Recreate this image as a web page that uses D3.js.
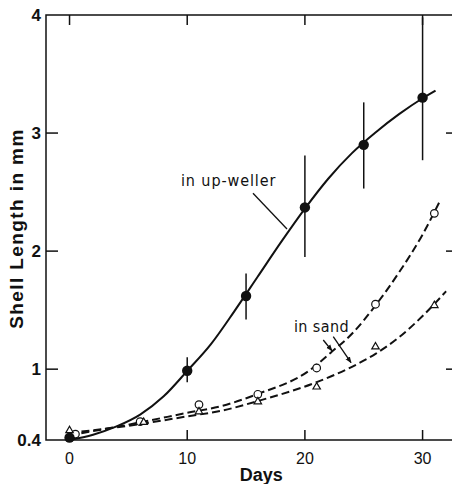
<!DOCTYPE html>
<html>
<head>
<meta charset="utf-8">
<script src="https://cdn.jsdelivr.net/npm/d3@7"></script>
<style>
  html, body { margin: 0; padding: 0; background: #fff; }
  svg { display: block; }
</style>
</head>
<body>
<svg id="chart"></svg>
<script>
// measured points, up-weller (filled dots with error bars)
const upDays = [0, 10, 15, 20, 25, 30];
const upMean = [0.42, 0.987, 1.62, 2.37, 2.90, 3.30];
const upLow  = [0.40, 0.89, 1.42, 1.95, 2.53, 2.77];
const upHigh = [0.45, 1.10, 1.81, 2.81, 3.26, 3.98];

// fitted curve, up-weller
const upFitDays = [0, 2, 4, 6, 8, 10, 12, 14, 16, 18, 20, 22, 24, 26, 28, 30, 31.1];
const upFitVals = [0.40, 0.445, 0.515, 0.615, 0.77, 0.985, 1.21, 1.49, 1.785, 2.08, 2.36, 2.615, 2.83, 3.005, 3.16, 3.295, 3.36];

// in sand, open circles
const sandCircleDays = [0.5, 6, 11, 16, 21, 26, 31];
const sandCircleVals = [0.45, 0.555, 0.70, 0.787, 1.01, 1.55, 2.32];
// in sand, triangles
const sandTriDays = [0, 6.3, 11, 16, 21, 26, 31];
const sandTriVals = [0.48, 0.55, 0.64, 0.725, 0.85, 1.19, 1.54];

// fitted dashed curves
const circleFitDays = [0, 5, 10, 13, 16, 20.4, 22.2, 24, 26, 28, 30, 31.5];
const circleFitVals = [0.44, 0.53, 0.63, 0.69, 0.79, 0.99, 1.14, 1.30, 1.54, 1.82, 2.14, 2.43];
const triFitDays = [0, 5, 10, 13, 16, 21, 24, 26, 28, 30, 32];
const triFitVals = [0.46, 0.52, 0.60, 0.65, 0.73, 0.89, 1.02, 1.13, 1.27, 1.45, 1.66];

const xTicks = [0, 10, 20, 30];
const yTicks = [0.4, 1, 2, 3, 4];

const W = 452, H = 484;
const margin = { top: 15, right: 0, bottom: 44, left: 46 };

const svg = d3.select("#chart").attr("width", W).attr("height", H);

const x = d3.scaleLinear().domain([-2, 32.5]).range([margin.left, W - margin.right]);
const y = d3.scaleLinear().domain([0.4, 4]).range([H - margin.bottom, margin.top]);

const ink = "#111";
const tickFont = "'Liberation Sans', Arial, sans-serif";
const noteFont = "'Liberation Sans Narrow', 'DejaVu Sans Condensed', sans-serif";

// frame: left, top, bottom
const x0 = x.range()[0], x1 = x.range()[1];
const yTop = y.range()[1], yBot = y.range()[0];
svg.append("path")
  .attr("d", `M${x1},${yTop}H${x0}V${yBot}H${x1}`)
  .attr("fill", "none")
  .attr("stroke", ink)
  .attr("stroke-width", 1.5);

// x ticks top and bottom, pointing in
xTicks.forEach(t => {
  svg.append("line").attr("x1", x(t)).attr("x2", x(t)).attr("y1", yTop).attr("y2", yTop + 10)
    .attr("stroke", ink).attr("stroke-width", 1.5);
  svg.append("line").attr("x1", x(t)).attr("x2", x(t)).attr("y1", yBot).attr("y2", yBot - 10)
    .attr("stroke", ink).attr("stroke-width", 1.5);
  svg.append("text")
    .attr("x", x(t)).attr("y", yBot + 24)
    .attr("text-anchor", "middle")
    .attr("font-family", tickFont).attr("font-size", 16)
    .attr("fill", ink)
    .text(t);
});

// y ticks left and right
yTicks.forEach(t => {
  if (t > 0.4 && t < 4) {
    svg.append("line").attr("x1", x0).attr("x2", x0 + 12).attr("y1", y(t)).attr("y2", y(t))
      .attr("stroke", ink).attr("stroke-width", 1.5);
    svg.append("line").attr("x1", x1 - 6).attr("x2", x1).attr("y1", y(t)).attr("y2", y(t))
      .attr("stroke", ink).attr("stroke-width", 1.5);
  }
  svg.append("text")
    .attr("x", x0 - 5).attr("y", y(t)).attr("dy", "0.36em")
    .attr("text-anchor", "end")
    .attr("font-family", tickFont).attr("font-size", 17).attr("font-weight", "bold")
    .attr("fill", ink)
    .text(t);
});

// axis titles
svg.append("text")
  .attr("transform", `translate(23, 228.5) rotate(-90)`)
  .attr("text-anchor", "middle")
  .attr("font-family", tickFont).attr("font-size", 19).attr("font-weight", "bold")
  .attr("letter-spacing", 1.4)
  .attr("fill", ink)
  .text("Shell Length in mm");

svg.append("text")
  .attr("x", x(16.3)).attr("y", H - 3)
  .attr("text-anchor", "middle")
  .attr("font-family", tickFont).attr("font-size", 18).attr("font-weight", "bold")
  .attr("fill", ink)
  .text("Days");

// curves
const line = d3.line().x(d => x(d[0])).y(d => y(d[1])).curve(d3.curveMonotoneX);

svg.append("path")
  .datum(d3.zip(upFitDays, upFitVals))
  .attr("d", line)
  .attr("fill", "none").attr("stroke", ink).attr("stroke-width", 2);

svg.append("path")
  .datum(d3.zip(circleFitDays, circleFitVals))
  .attr("d", line)
  .attr("fill", "none").attr("stroke", ink).attr("stroke-width", 2)
  .attr("stroke-dasharray", "8,4");

svg.append("path")
  .datum(d3.zip(triFitDays, triFitVals))
  .attr("d", line)
  .attr("fill", "none").attr("stroke", ink).attr("stroke-width", 2)
  .attr("stroke-dasharray", "8,4");

// error bars
svg.selectAll("line.err")
  .data(upDays.map((d, i) => ({ d, lo: upLow[i], hi: upHigh[i] })))
  .join("line")
  .attr("class", "err")
  .attr("x1", p => x(p.d)).attr("x2", p => x(p.d))
  .attr("y1", p => y(p.lo)).attr("y2", p => y(p.hi))
  .attr("stroke", ink).attr("stroke-width", 1.5);

// markers
svg.selectAll("circle.sandc")
  .data(d3.zip(sandCircleDays, sandCircleVals))
  .join("circle")
  .attr("class", "sandc")
  .attr("cx", d => x(d[0])).attr("cy", d => y(d[1]))
  .attr("r", 3.8)
  .attr("fill", "#fff").attr("stroke", ink).attr("stroke-width", 1.2);

const tri = d3.symbol().type(d3.symbolTriangle).size(24);
svg.selectAll("path.sandt")
  .data(d3.zip(sandTriDays, sandTriVals))
  .join("path")
  .attr("class", "sandt")
  .attr("transform", d => `translate(${x(d[0])},${y(d[1])})`)
  .attr("d", tri)
  .attr("fill", "#fff").attr("stroke", ink).attr("stroke-width", 1.2);

svg.selectAll("circle.up")
  .data(d3.zip(upDays, upMean))
  .join("circle")
  .attr("class", "up")
  .attr("cx", d => x(d[0])).attr("cy", d => y(d[1]))
  .attr("r", 5.2)
  .attr("fill", ink);

// annotations
svg.append("text")
  .attr("x", x(9.47)).attr("y", y(2.55))
  .attr("font-family", noteFont).attr("font-size", 16)
  .attr("letter-spacing", 0.9)
  .attr("fill", ink)
  .text("in up-weller");

svg.append("line")
  .attr("x1", x(15.59)).attr("y1", y(2.49))
  .attr("x2", x(18.48)).attr("y2", y(2.187))
  .attr("stroke", ink).attr("stroke-width", 1.3);

svg.append("text")
  .attr("x", x(19.07)).attr("y", y(1.315))
  .attr("font-family", noteFont).attr("font-size", 16)
  .attr("letter-spacing", 0.4)
  .attr("fill", ink)
  .text("in sand");

svg.append("defs").append("marker")
  .attr("id", "arrow")
  .attr("viewBox", "0 0 10 10")
  .attr("refX", 9).attr("refY", 5)
  .attr("markerWidth", 5).attr("markerHeight", 5)
  .attr("orient", "auto")
  .append("path")
  .attr("d", "M0,1L10,5L0,9Z")
  .attr("fill", ink);

const sandArrows = [
  [21.56, 1.247, 22.30, 1.156],
  [22.41, 1.275, 23.92, 1.055]
];
sandArrows.forEach(a => {
  svg.append("line")
    .attr("x1", x(a[0])).attr("y1", y(a[1]))
    .attr("x2", x(a[2])).attr("y2", y(a[3]))
    .attr("stroke", ink).attr("stroke-width", 1.3)
    .attr("marker-end", "url(#arrow)");
});
</script>
</body>
</html>
